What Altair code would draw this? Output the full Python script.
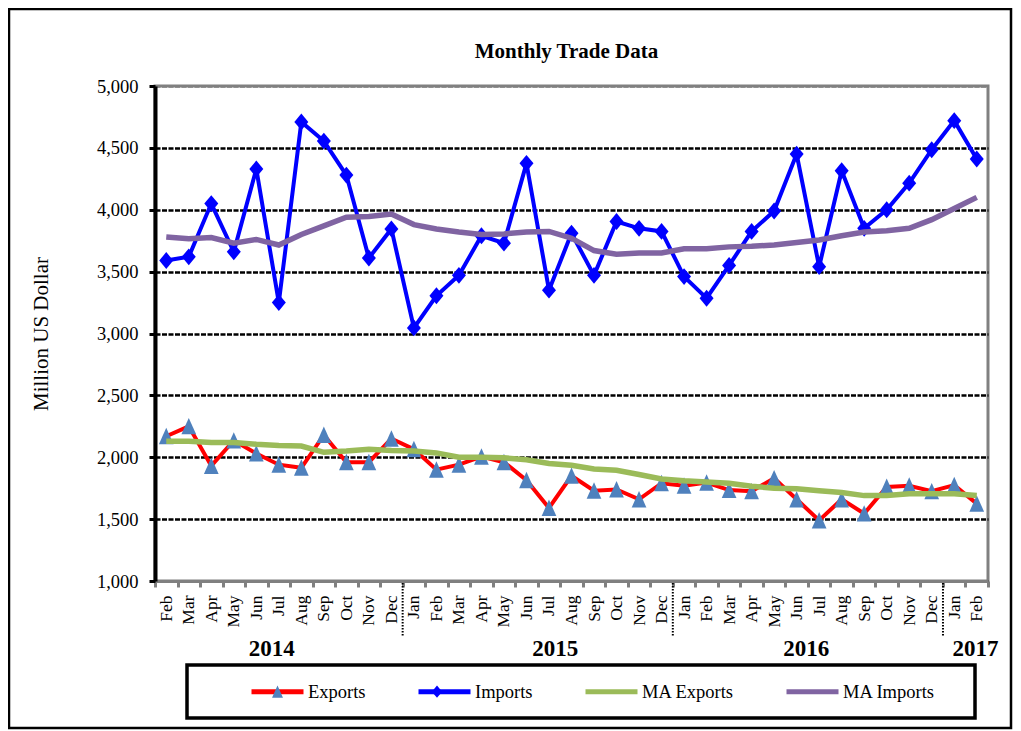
import altair as alt
import pandas as pd

# ---------------- data ----------------
months = ["Feb", "Mar", "Apr", "May", "Jun", "Jul", "Aug", "Sep", "Oct", "Nov", "Dec",
          "Jan", "Feb", "Mar", "Apr", "May", "Jun", "Jul", "Aug", "Sep", "Oct", "Nov", "Dec",
          "Jan", "Feb", "Mar", "Apr", "May", "Jun", "Jul", "Aug", "Sep", "Oct", "Nov", "Dec",
          "Jan", "Feb"]
years = [2014] * 11 + [2015] * 12 + [2016] * 12 + [2017] * 2

exports = [2170, 2250, 1930, 2135, 2030, 1940, 1915, 2180, 1960, 1960, 2150,
           2065, 1900, 1940, 2005, 1960, 1815, 1590, 1850, 1730, 1740, 1660, 1790,
           1770, 1795, 1735, 1725, 1830, 1660, 1490, 1660, 1545, 1760, 1770, 1725,
           1775, 1625]
imports = [3590, 3620, 4050, 3660, 4330, 3250, 4710, 4555, 4280, 3610, 3845,
           3045, 3305, 3470, 3790, 3730, 4375, 3350, 3810, 3470, 3905, 3850, 3825,
           3460, 3285, 3550, 3825, 3990, 4450, 3540, 4315, 3850, 4000, 4215, 4485,
           4720, 4410]
ma_exports = [2130, 2130, 2120, 2120, 2105, 2095, 2090, 2040, 2050, 2065, 2055,
              2050, 2035, 2000, 2000, 1995, 1980, 1950, 1935, 1905, 1895, 1860, 1825,
              1810, 1800, 1790, 1765, 1750, 1745, 1730, 1715, 1690, 1690, 1705, 1705,
              1705, 1690]
ma_imports = [3780, 3765, 3775, 3730, 3760, 3715, 3800, 3870, 3940, 3945, 3965,
              3880, 3845, 3820, 3800, 3805, 3820, 3825, 3770, 3670, 3640, 3650, 3650,
              3685, 3685, 3700, 3705, 3715, 3735, 3755, 3790, 3820, 3830, 3850, 3920,
              4010, 4100]

series_names = ["Exports", "Imports", "MA Exports", "MA Imports"]
y_ticks = [1000, 1500, 2000, 2500, 3000, 3500, 4000, 4500, 5000]
year_labels = ["2014", "2015", "2016", "2017"]
year_anchor_month = ["Jul 2014", "Jul 2015", "Jun 2016", "Feb 2017"]
year_end_months = ["Dec 2014", "Dec 2015", "Dec 2016"]
chart_title = "Monthly Trade Data"

keys = [f"{m} {y}" for m, y in zip(months, years)]
rows = []
for name, vals in zip(series_names, [exports, imports, ma_exports, ma_imports]):
    for k, v in zip(keys, vals):
        rows.append({"key": k, "series": name, "value": v})
df = pd.DataFrame(rows)

# ---------------- styling ----------------
W, H = 833, 495
FONT = "Liberation Serif"
line_colors = ["#ff0000", "#0000ff", "#9bbb59", "#8064a2"]
marker_colors = ["#4f81bd", "#0000ff"]
tri_path = "M0,-0.24L0.21,0.23L-0.21,0.23Z"
dia_path = "M0,-0.24L0.2,0L0,0.24L-0.2,0Z"

x_scale = alt.Scale(type="band", domain=keys, paddingInner=0, paddingOuter=0)
x_axis = alt.Axis(title=None, labelExpr="split(datum.label, ' ')[0]", labelAngle=-90,
                  labelFont=FONT, labelFontSize=17.5, labelColor="black", labelPadding=8,
                  labelOverlap=False, domainColor="#808080", domainWidth=3,
                  tickColor="#808080", tickWidth=3, tickSize=6, tickBand="extent", grid=False)
y_scale = alt.Scale(domain=[1000, 5000], nice=False, zero=False)
y_axis = alt.Axis(values=y_ticks, format=",.0f", title="Million US Dollar",
                  titleFont=FONT, titleFontSize=21, titleFontWeight="normal", titleColor="black",
                  titleX=-108, titleY=H / 2, titleAlign="center", titleBaseline="alphabetic",
                  titleAngle=270,
                  labelFont=FONT, labelFontSize=18.5, labelColor="black", labelPadding=11,
                  tickSize=6, tickWidth=3, tickColor="black", domainColor="black", domainWidth=4,
                  grid=True,
                  gridColor={"condition": {"test": "datum.value >= 5000", "value": "#808080"},
                             "value": "black"},
                  gridDash=[5, 1.5], gridWidth=2.5)

X = alt.X("key:N", scale=x_scale, axis=x_axis)
Y = alt.Y("value:Q", scale=y_scale, axis=y_axis)

LX, LY = 94, 577
common_leg = dict(title=None, orient="none", legendX=LX, legendY=LY, direction="horizontal",
                  symbolSize=2704, symbolStrokeWidth=5, labelFont=FONT, labelFontSize=18.5,
                  labelColor="black", labelOffset=2, padding=0)
legend_lines = alt.Legend(symbolType="stroke", columnPadding=42, **common_leg)
legend_marks = alt.Legend(symbolStrokeColor="transparent", labelExpr="''", columnPadding=100.5,
                          zindex=2, **common_leg)

color_enc = alt.Color("series:N", scale=alt.Scale(domain=series_names, range=line_colors),
                      legend=legend_lines)

base = alt.Chart(df)

raw_lines = base.transform_filter(
    alt.FieldOneOfPredicate(field="series", oneOf=["Exports", "Imports"])
).mark_line(strokeWidth=4).encode(x=X, y=Y, color=color_enc)

markers = base.transform_filter(
    alt.FieldOneOfPredicate(field="series", oneOf=["Exports", "Imports"])
).mark_point(filled=True, size=4900, strokeWidth=0, opacity=1).encode(
    x=X, y=Y,
    shape=alt.Shape("series:N", scale=alt.Scale(range=[tri_path, dia_path]), legend=legend_marks),
    fill=alt.Fill("series:N", scale=alt.Scale(range=marker_colors), legend=legend_marks),
)

ma_lines = base.transform_filter(
    alt.FieldOneOfPredicate(field="series", oneOf=["MA Exports", "MA Imports"])
).mark_line(strokeWidth=5.5).encode(x=X, y=Y, color=color_enc)

# year separators (dotted) below the axis
sep_df = pd.DataFrame({"key": year_end_months})
separators = alt.Chart(sep_df).mark_rule(color="black", strokeWidth=2, strokeDash=[1.5, 1.5]).encode(
    x=alt.X("key:N", scale=x_scale, axis=x_axis, bandPosition=1),
    y=alt.value(H + 2), y2=alt.value(H + 56),
)

# year labels
year_layers = []
for lab, anchor, frac in zip(year_labels, year_anchor_month, [0.19, 0.78, 0.93, 0.44]):
    ydf = pd.DataFrame({"key": [anchor], "label": [lab]})
    year_layers.append(
        alt.Chart(ydf).mark_text(font=FONT, fontSize=23, fontWeight="bold", color="black",
                                 align="center", baseline="alphabetic").encode(
            x=alt.X("key:N", scale=x_scale, axis=x_axis, bandPosition=frac),
            y=alt.value(H + 75), text="label:N")
    )

title_layer = alt.Chart(pd.DataFrame({"t": [chart_title]})).mark_text(
    font=FONT, fontSize=21, fontWeight="bold", color="black", align="center",
    baseline="alphabetic").encode(x=alt.value(W / 2 - 5), y=alt.value(-28), text="t:N")

box_df = pd.DataFrame({"k": [0]})
outer_frame = alt.Chart(box_df).mark_rect(fillOpacity=0, stroke="black", strokeWidth=2.5).encode(
    x=alt.value(-146), x2=alt.value(856), y=alt.value(-77), y2=alt.value(642))
legend_box = alt.Chart(box_df).mark_rect(fillOpacity=0, stroke="black", strokeWidth=3.5).encode(
    x=alt.value(32), x2=alt.value(820), y=alt.value(579), y2=alt.value(632))

chart = alt.layer(
    outer_frame, legend_box, title_layer, separators, *year_layers, raw_lines, markers, ma_lines
).properties(
    width=W, height=H,
    autosize=alt.AutoSizeParams(type="none"),
    padding={"left": 147, "top": 78, "right": 25, "bottom": 150},
).configure_view(
    stroke="#808080", strokeWidth=3
)

chart.save("out.html", embed_options={"renderer": "svg", "actions": False})
